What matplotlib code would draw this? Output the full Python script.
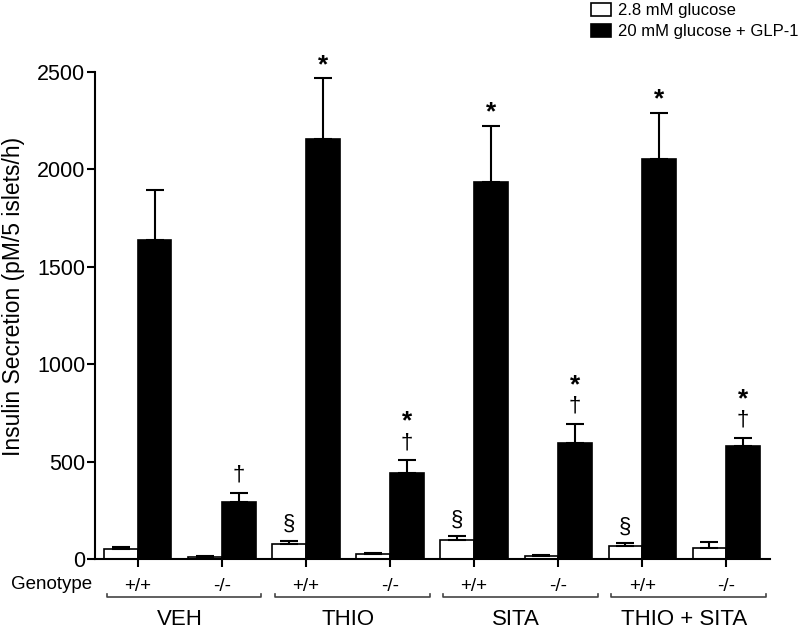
import matplotlib.pyplot as plt
import numpy as np
from matplotlib.patches import Patch

plt.rcParams["font.family"] = ["Liberation Sans", "DejaVu Sans"]

# values (pM/5 islets/h)
groups = ["VEH", "THIO", "SITA", "THIO + SITA"]
genotypes = ["+/+", "-/-", "+/+", "-/-", "+/+", "-/-", "+/+", "-/-"]
low_mean = [49, 12, 77, 26, 99, 15, 68, 58]
low_sem = [14, 5, 15, 6, 17, 4, 12, 31]
high_mean = [1637, 295, 2157, 443, 1935, 598, 2055, 580]
high_sem = [257, 46, 310, 64, 287, 97, 236, 43]

# significance marks
star_high = [False, False, True, True, True, True, True, True]
dagger_high = [False, True, False, True, False, True, False, True]
section_low = [False, False, True, False, True, False, True, False]

fig = plt.figure(figsize=(8, 6.29), dpi=100)
ax = fig.add_axes([95 / 800, 1 - 559 / 629, 675 / 800, 487 / 629])

x = np.arange(len(genotypes))
w = 0.4
err_kw = dict(ecolor="black", elinewidth=1.5, capsize=6.5, capthick=1.5)

ax.bar(x - w / 2, low_mean, w, color="white", edgecolor="black", linewidth=1.2,
       yerr=[np.zeros(len(x)), low_sem], error_kw=err_kw, label="2.8 mM glucose")
ax.bar(x + w / 2, high_mean, w, color="black", edgecolor="black", linewidth=1.2,
       yerr=[np.zeros(len(x)), high_sem], error_kw=err_kw, label="20 mM glucose + GLP-1")

for i in range(len(x)):
    top = high_mean[i] + high_sem[i]
    if dagger_high[i]:
        ax.annotate("\u2020", (x[i] + w / 2, top), xytext=(0, 20), textcoords="offset pixels",
                    ha="center", va="center_baseline", fontsize=16)
        if star_high[i]:
            ax.annotate("*", (x[i] + w / 2, top), xytext=(0, 41), textcoords="offset pixels",
                        ha="center", va="center_baseline", fontsize=19, fontweight="bold")
    elif star_high[i]:
        ax.annotate("*", (x[i] + w / 2, top), xytext=(0, 16), textcoords="offset pixels",
                    ha="center", va="center_baseline", fontsize=19, fontweight="bold")
    if section_low[i]:
        ax.annotate("\u00a7", (x[i] - w / 2, low_mean[i] + low_sem[i]), xytext=(0, 19),
                    textcoords="offset pixels", ha="center", va="center_baseline", fontsize=16)

ax.set_xlim(-0.51, 7.52)
ax.set_ylim(0, 2500)
ax.set_yticks([0, 500, 1000, 1500, 2000, 2500])
ax.set_xticks(x)
ax.set_xticklabels(genotypes, fontsize=13.5)
ax.tick_params(axis="y", labelsize=15.5, length=6, width=1.5, pad=1)
ax.tick_params(axis="x", length=6, width=1.5, pad=8)
for side in ["top", "right"]:
    ax.spines[side].set_visible(False)
for side in ["left", "bottom"]:
    ax.spines[side].set_linewidth(1.5)
ax.set_ylabel("Insulin Secretion (pM/5 islets/h)", fontsize=16.5)
ax.yaxis.set_label_coords(-0.104, 0.54)

# genotype row, brackets and treatment labels below the axis
trans = ax.get_xaxis_transform()
ax.text(-0.55, -0.053, "Genotype", transform=trans, ha="right", va="center", fontsize=13.5)
for g, name in enumerate(groups):
    x0, x1 = 2 * g - 0.37, 2 * g + 1.47
    ax.plot([x0, x0, x1, x1], [-0.072, -0.078, -0.078, -0.072], transform=trans,
            color="#444444", lw=1.2, clip_on=False)
    ax.text(2 * g + 0.5, -0.125, name, transform=trans, ha="center", va="center", fontsize=16)

handles = [Patch(facecolor="white", edgecolor="black", linewidth=1.2),
           Patch(facecolor="black", edgecolor="black", linewidth=1.2)]
fig.legend(handles, ["2.8 mM glucose", "20 mM glucose + GLP-1"], loc="upper left",
           bbox_to_anchor=(579 / 800, 1.014), frameon=False, fontsize=12, borderpad=0.2,
           handlelength=1.2, handleheight=0.8, handletextpad=0.45, labelspacing=0.35)

fig.savefig("out.png", dpi=100)
